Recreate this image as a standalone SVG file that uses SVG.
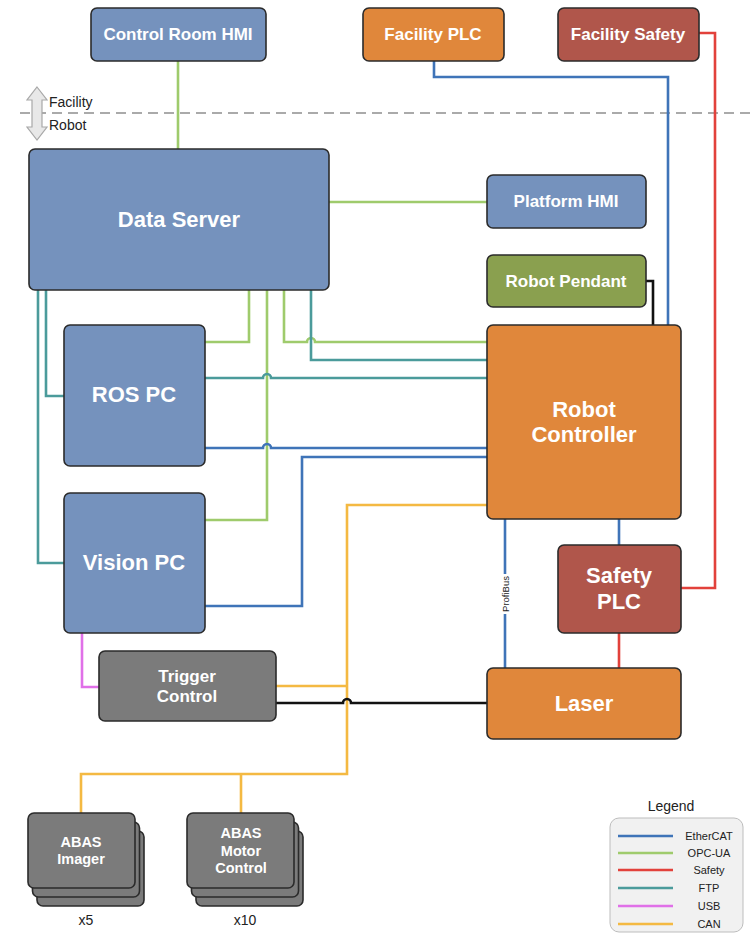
<svg xmlns="http://www.w3.org/2000/svg" width="752" height="933" viewBox="0 0 752 933">
<style>
.n{stroke:#2b2b2b;stroke-width:1.6}
.blue{fill:#7592bd}.org{fill:#e0873b}.red{fill:#b0564b}.grn{fill:#8aa04f}.gry{fill:#7b7b7b}
.t{font-family:"Liberation Sans",Arial,sans-serif;font-weight:bold;fill:#fff;text-anchor:middle}
.s17{font-size:17px}.s22{font-size:22px}.s15{font-size:14.5px}
.c{fill:none;stroke-width:2.6}
.eth{stroke:#3f74b8}.opc{stroke:#9fcb6c}.saf{stroke:#e2413b}.ftp{stroke:#4b9b9b}.usb{stroke:#e070e8}.can{stroke:#f4b942}.blk{stroke:#111}
.lbl{font-family:"Liberation Sans",Arial,sans-serif;fill:#222}
</style>
<rect width="752" height="933" fill="#fff"/>
<!-- facility/robot divider -->
<g id="divider">
<line x1="20" y1="113" x2="752" y2="113" stroke="#aaa" stroke-width="2" stroke-dasharray="10,6"/>
<polygon points="37,87 47,100 42,100 42,127 47,127 37,140 27,127 32,127 32,100 27,100" fill="#e8e8e8" stroke="#a8a8a8" stroke-width="1.2"/>
<text class="lbl" x="49" y="107" font-size="14">Facility</text>
<text class="lbl" x="49" y="130" font-size="14">Robot</text>
</g>
<g id="connectors">
<path class="c opc" d="M178 61V149"/>
<path class="c opc" d="M329 202H487"/>
<path class="c opc" d="M249 290V342H205"/>
<path class="c opc" d="M267 290V520H205"/>
<path class="c opc" d="M284 290V342H307a4 4 0 0 1 8 0H487"/>
<path class="c ftp" d="M38 290V563H64"/>
<path class="c ftp" d="M46 290V396H64"/>
<path class="c ftp" d="M311 290V360H487"/>
<path class="c ftp" d="M205 378H263a4 4 0 0 1 8 0H487"/>
<path class="c eth" d="M434 61V77H668V325"/>
<path class="c eth" d="M205 448H263a4 4 0 0 1 8 0H487"/>
<path class="c eth" d="M205 606H302V457H487"/>
<path class="c eth" d="M619 519V545"/>
<path class="c eth" d="M505 519V668"/>
<path class="c saf" d="M699 33H715V588H681"/>
<path class="c saf" d="M619 633V668"/>
<path class="c usb" d="M82 633V687H99"/>
<path class="c can" d="M487 505H347V774H81V813"/>
<path class="c can" d="M276 686H347"/>
<path class="c can" d="M241 774V813"/>
<path class="c blk" d="M646 281H653V325"/>
<path class="c blk" d="M276 703H343a4 4 0 0 1 8 0H487"/>
<rect x="499" y="574" width="12" height="40" fill="#fff"/>
<text class="lbl" font-size="9.5" text-anchor="middle" transform="translate(508.5 594) rotate(-90)">ProfiBus</text>
</g>
<g id="control-room-hmi"><rect class="n blue" x="91" y="8" width="175" height="53" rx="6"/><text class="t s17" x="178" y="40">Control Room HMI</text></g>
<g id="facility-plc"><rect class="n org" x="363" y="8" width="141" height="53" rx="6"/><text class="t s17" x="433" y="40">Facility PLC</text></g>
<g id="facility-safety"><rect class="n red" x="558" y="8" width="141" height="53" rx="6"/><text class="t s17" x="628" y="40">Facility Safety</text></g>
<g id="data-server"><rect class="n blue" x="29" y="149" width="300" height="141" rx="6"/><text class="t s22" x="179" y="227">Data Server</text></g>
<g id="platform-hmi"><rect class="n blue" x="487" y="175" width="159" height="53" rx="6"/><text class="t s17" x="566" y="207">Platform HMI</text></g>
<g id="robot-pendant"><rect class="n grn" x="487" y="255" width="159" height="52" rx="6"/><text class="t s17" x="566" y="287">Robot Pendant</text></g>
<g id="ros-pc"><rect class="n blue" x="64" y="325" width="141" height="141" rx="6"/><text class="t s22" x="134" y="402">ROS PC</text></g>
<g id="vision-pc"><rect class="n blue" x="64" y="493" width="141" height="140" rx="6"/><text class="t s22" x="134" y="570">Vision PC</text></g>
<g id="robot-controller"><rect class="n org" x="487" y="325" width="194" height="194" rx="6"/><text class="t s22" x="584" y="417">Robot</text><text class="t s22" x="584" y="442">Controller</text></g>
<g id="safety-plc"><rect class="n red" x="558" y="545" width="123" height="88" rx="6"/><text class="t s22" x="619" y="583">Safety</text><text class="t s22" x="619" y="609">PLC</text></g>
<g id="laser"><rect class="n org" x="487" y="668" width="194" height="71" rx="6"/><text class="t s22" x="584" y="711">Laser</text></g>
<g id="trigger-control"><rect class="n gry" x="99" y="651" width="177" height="70" rx="6"/><text class="t s17" x="187" y="682">Trigger</text><text class="t s17" x="187" y="702">Control</text></g>
<g id="abas-imager">
<rect class="n gry" x="37" y="831" width="107" height="75" rx="6"/>
<rect class="n gry" x="32.5" y="822" width="107" height="75" rx="6"/>
<rect class="n gry" x="28" y="813" width="107" height="75" rx="6"/>
<text class="t s15" x="81" y="847">ABAS</text><text class="t s15" x="81" y="864">Imager</text>
<text class="lbl" x="86" y="925" font-size="14" text-anchor="middle">x5</text>
</g>
<g id="abas-motor-control">
<rect class="n gry" x="196" y="831" width="107" height="75" rx="6"/>
<rect class="n gry" x="191.5" y="822" width="107" height="75" rx="6"/>
<rect class="n gry" x="187" y="813" width="107" height="75" rx="6"/>
<text class="t s15" x="241" y="838">ABAS</text><text class="t s15" x="241" y="856">Motor</text><text class="t s15" x="241" y="873">Control</text>
<text class="lbl" x="245" y="925" font-size="14" text-anchor="middle">x10</text>
</g>
<g id="legend">
<text class="lbl" x="671" y="811" font-size="14" text-anchor="middle">Legend</text>
<rect x="610" y="818" width="133" height="114" rx="9" fill="#f1f1f1" stroke="#bdbdbd" stroke-width="1"/>
<path class="c eth" d="M618 836H673"/><text class="lbl" x="709" y="840" font-size="11" text-anchor="middle">EtherCAT</text>
<path class="c opc" d="M618 853H673"/><text class="lbl" x="709" y="857" font-size="11" text-anchor="middle">OPC-UA</text>
<path class="c saf" d="M618 870H673"/><text class="lbl" x="709" y="874" font-size="11" text-anchor="middle">Safety</text>
<path class="c ftp" d="M618 888H673"/><text class="lbl" x="709" y="892" font-size="11" text-anchor="middle">FTP</text>
<path class="c usb" d="M618 906H673"/><text class="lbl" x="709" y="910" font-size="11" text-anchor="middle">USB</text>
<path class="c can" d="M618 924H673"/><text class="lbl" x="709" y="928" font-size="11" text-anchor="middle">CAN</text>
</g>
</svg>
